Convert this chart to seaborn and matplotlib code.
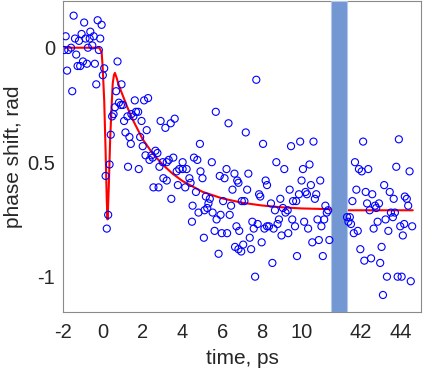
import matplotlib
matplotlib.use("Agg")
import matplotlib.pyplot as plt
import seaborn as sns
import pandas as pd

# --------------------------------------------------
# Phase shift vs delay time, with a broken time axis
# (the 11.5 - 40.5 ps gap is cut out and marked by a band)
# --------------------------------------------------

# measured points, 0 - 11.5 ps window
t_early = [
    -1.48, -0.95, -0.27, -0.07, -1.88, -1.41, -1.21, -1.08, -0.88, -0.64, -0.67,
    -0.47, -0.14, -0.54, -0.76, -1.95, -1.75, -1.61, -0.21, -1.35, -1.01, -0.81,
    -0.41, -1.28, -1.15, -1.81, -1.55, -0.34, 0.06, -0.01, 0.73, 0.66, 0.80,
    0.60, 0.53, 0.46, 0.39, 0.33, 0.13, 0.26, 0.19,
    0.93, 1.00, 0.90, 1.60, 2.07, 2.27, 1.06, 1.23, 1.43, 1.53, 1.66, 1.77,
    1.94, 2.20, 1.13, 1.33, 1.40, 1.87, 2.00, 2.90, 3.14, 3.41, 3.61, 2.14,
    2.34, 2.44, 2.50, 2.64, 2.74, 2.84, 3.01, 3.21, 3.31, 3.54, 3.71, 1.26,
    1.80, 2.54, 2.80, 3.04, 3.21, 3.44, 3.77,
    5.68, 6.32, 4.88, 4.01, 4.58, 4.75, 5.48, 3.84, 4.21, 4.01, 4.91, 6.22,
    6.62, 5.88, 6.12, 5.01, 4.35, 4.41, 4.14, 6.76, 6.52, 4.68, 5.18, 5.38,
    5.31, 6.05, 6.45, 4.51, 5.25, 5.11, 4.81, 5.52, 5.92, 5.72, 6.38, 4.48,
    6.72, 5.08, 5.62, 5.98, 6.25, 6.65, 5.82,
    7.72, 7.19, 8.06, 9.47, 8.73, 9.13, 7.32, 6.82, 8.19, 8.26, 7.26, 9.40,
    6.99, 7.12, 7.86, 7.92, 8.93, 8.46, 8.66, 9.06, 9.19, 9.30, 9.57, 9.73,
    9.87, 8.86, 8.79, 9.53, 9.67, 7.52, 7.79, 8.13, 8.36, 8.59, 8.26, 7.59,
    6.86, 7.39, 8.99, 9.33, 7.06, 7.99, 6.82, 6.96, 7.46, 9.77, 8.53, 7.66,
    9.93, 10.60, 10.07, 10.40, 10.00, 10.94, 10.47, 10.20, 10.27, 10.74, 10.67,
    11.20, 11.27, 11.34, 11.14, 10.80, 10.13, 11.00, 10.33, 10.87, 10.54, 11.40,
    11.07,
]
phase_early = [
    0.14, 0.11, 0.12, 0.10, 0.05, 0.04, 0.03, 0.06, 0.04, 0.07, 0.04,
    0.05, 0.04, 0.01, 0.00, -0.01, -0.01, 0.00, -0.01, -0.03, -0.06, -0.07,
    -0.07, -0.08, -0.08, -0.10, -0.19, -0.16, -0.09, -0.12, -0.06, -0.19, -0.24,
    -0.26, -0.29, -0.30, -0.38, -0.51, -0.56, -0.73, -0.79,
    -0.16, -0.25, -0.25, -0.23, -0.23, -0.22, -0.32, -0.30, -0.29, -0.30, -0.28, -0.28,
    -0.32, -0.36, -0.37, -0.39, -0.42, -0.39, -0.43, -0.32, -0.35, -0.33, -0.31, -0.47,
    -0.49, -0.47, -0.48, -0.45, -0.46, -0.52, -0.50, -0.50, -0.49, -0.48, -0.54, -0.52,
    -0.53, -0.61, -0.61, -0.57, -0.58, -0.66, -0.60,
    -0.28, -0.33, -0.42, -0.50, -0.48, -0.49, -0.50, -0.53, -0.53, -0.53, -0.54, -0.53,
    -0.55, -0.56, -0.57, -0.57, -0.57, -0.59, -0.61, -0.58, -0.62, -0.63, -0.65, -0.66,
    -0.68, -0.67, -0.69, -0.69, -0.70, -0.71, -0.72, -0.72, -0.73, -0.75, -0.73, -0.76,
    -0.78, -0.83, -0.80, -0.81, -0.81, -0.87, -0.90,
    -0.14, -0.37, -0.42, -0.43, -0.50, -0.53, -0.55, -0.59, -0.58, -0.60, -0.62, -0.62,
    -0.67, -0.67, -0.64, -0.65, -0.66, -0.68, -0.71, -0.70, -0.72, -0.71, -0.67, -0.67,
    -0.64, -0.75, -0.77, -0.75, -0.78, -0.76, -0.77, -0.79, -0.78, -0.79, -0.78, -0.79,
    -0.80, -0.83, -0.82, -0.81, -0.86, -0.85, -0.88, -0.89, -0.88, -0.91, -0.94, -1.00,
    -0.41, -0.41, -0.53, -0.51, -0.58, -0.58, -0.60, -0.63, -0.64, -0.64, -0.66,
    -0.69, -0.72, -0.71, -0.75, -0.75, -0.76, -0.78, -0.79, -0.84, -0.85, -0.84,
    -0.91,
]

# measured points, 41 - 45 ps window
t_late = [
    42.10, 43.90, 41.69, 41.89, 42.03, 42.36, 43.77, 44.44, 43.16, 41.76,
    42.23, 42.56, 43.44, 44.20, 44.30, 41.56, 42.30, 42.90, 43.64, 42.70,
    44.37, 42.43, 42.76, 43.50, 43.70, 43.60, 41.29, 41.43, 41.36, 41.49,
    43.23, 42.83, 42.63, 43.37, 43.97, 44.17, 44.57, 44.10, 41.63, 41.83,
    43.03, 41.96, 42.16, 42.50, 42.96, 43.30, 43.84, 44.04, 44.50, 43.10,
]
phase_late = [
    -0.41, -0.40, -0.50, -0.53, -0.54, -0.53, -0.52, -0.54, -0.60, -0.62,
    -0.63, -0.64, -0.63, -0.65, -0.66, -0.67, -0.68, -0.68, -0.66, -0.69,
    -0.69, -0.71, -0.70, -0.72, -0.72, -0.74, -0.74, -0.74, -0.76, -0.77,
    -0.75, -0.76, -0.79, -0.80, -0.78, -0.77, -0.78, -0.82, -0.81, -0.80,
    -0.87, -0.88, -0.93, -0.92, -0.94, -1.00, -1.00, -1.00, -1.02, -1.08,
]

# fitted model curve
fit_t = [-2, -0.5, -0.19, -0.07, -0.02, 0.06, 0.13, 0.19, 0.23, 0.29, 0.36,
         0.43, 0.49, 0.55, 0.60, 0.68, 0.8, 1.0, 1.25, 1.5, 2, 2.5, 3, 3.5,
         4, 5, 6, 7, 8, 9, 10, 11.4, 41.3, 44.6]
fit_phase = [0, 0, 0, -0.02, -0.08, -0.23, -0.45, -0.67, -0.75, -0.61, -0.40,
             -0.26, -0.155, -0.12, -0.11, -0.13, -0.165, -0.21, -0.265, -0.315,
             -0.40, -0.462, -0.51, -0.55, -0.582, -0.629, -0.658, -0.677,
             -0.689, -0.697, -0.702, -0.705, -0.71, -0.71]

# axis break: times after the gap are shifted left by this amount
gap_shift = 29.0
break_band = (11.47, 12.31)

x_tick_values = [-2, 0, 2, 4, 6, 8, 10, 42, 44]
x_tick_labels = ["-2", "0", "2", "4", "6", "8", "10", "42", "44"]
y_tick_values = [0, -0.5, -1]
y_tick_labels = ["0", "0.5", "-1"]


def squeeze(t):
    return t - gap_shift if t > 30 else t


points = pd.DataFrame({
    "t": [squeeze(v) for v in t_early + t_late],
    "phase": phase_early + phase_late,
})
fit = pd.DataFrame({"t": [squeeze(v) for v in fit_t], "phase": fit_phase})

sns.set_style("white")
plt.rcParams["font.family"] = ["Liberation Sans", "DejaVu Sans"]
plt.rcParams["axes.edgecolor"] = "#8a8a8a"

fig = plt.figure(figsize=(4.24, 3.75), dpi=100)
ax = fig.add_axes([0.1493, 0.1688, 0.8429, 0.8285])

sns.lineplot(data=fit, x="t", y="phase", color="red", linewidth=1.5,
             sort=False, estimator=None, ax=ax, zorder=2)
ax.axvspan(*break_band, facecolor="#7397d3", edgecolor="#b3c8ec",
           linewidth=0.8, zorder=3)
sns.scatterplot(data=points, x="t", y="phase", marker="o", s=26,
                facecolor="none", edgecolor="blue", linewidth=0.8,
                ax=ax, zorder=4)

ax.set_xlim(-2, 16)
ax.set_ylim(-1.153, 0.204)
ax.set_xticks([squeeze(v) for v in x_tick_values])
ax.set_xticklabels(x_tick_labels)
ax.set_yticks(y_tick_values)
ax.set_yticklabels(y_tick_labels)
ax.tick_params(axis="both", direction="in", length=3, width=0.6,
               color="#8a8a8a", labelsize=14.5, labelcolor="#262626")
ax.tick_params(axis="x", pad=8)
ax.tick_params(axis="y", pad=6)
for side in ["top", "right", "bottom", "left"]:
    ax.spines[side].set_visible(True)
    ax.spines[side].set_linewidth(0.8)

ax.set_xlabel("time, ps", fontsize=15, color="#262626", labelpad=5)
ax.set_ylabel("phase shift, rad", fontsize=15, color="#262626", labelpad=3)

fig.savefig("out.png", dpi=100)
